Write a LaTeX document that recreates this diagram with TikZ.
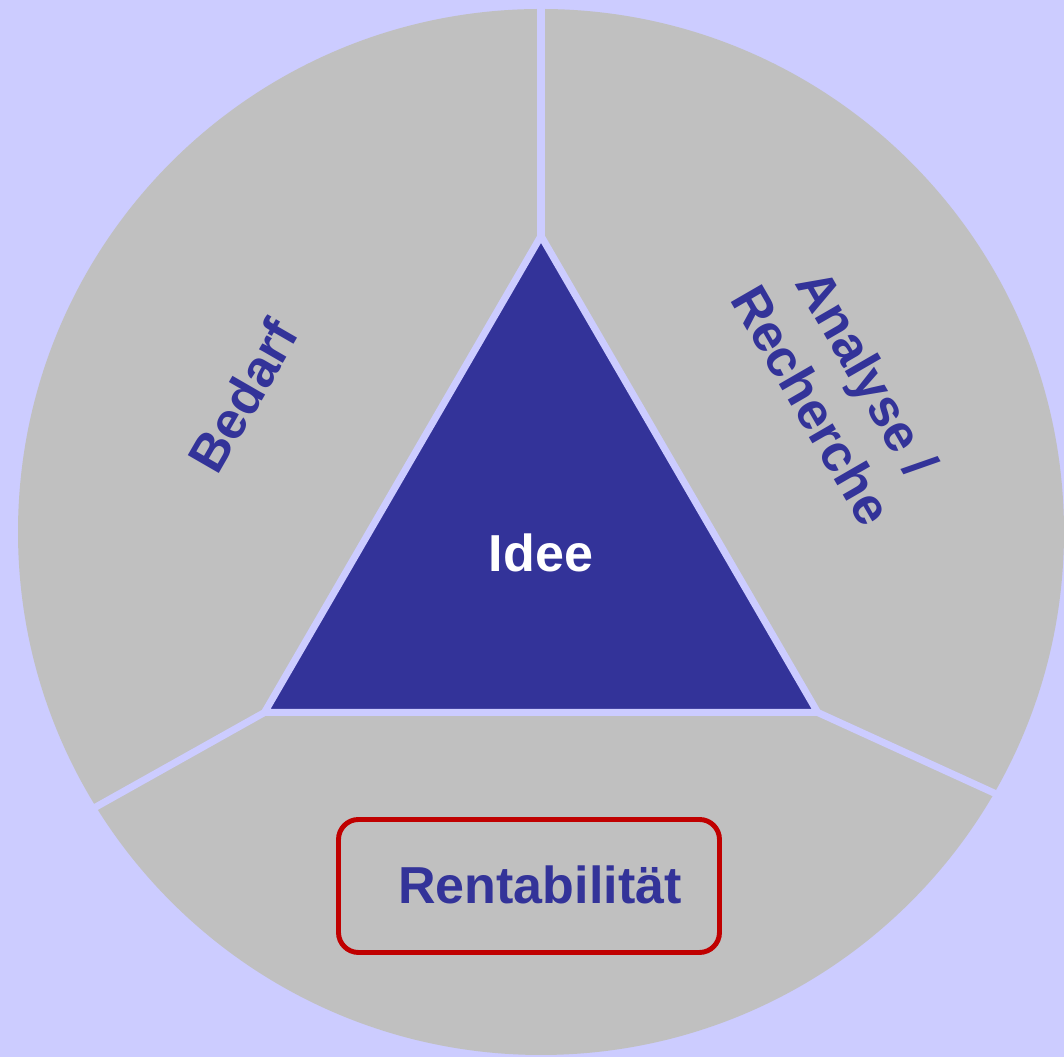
\documentclass[tikz,border=0pt]{standalone}
\usepackage{fontspec}
\setmainfont{Liberation Sans}
\usepackage{xcolor}
\usetikzlibrary{
		calc,
		positioning
	}
\definecolor{lavender}{HTML}{CCCCFF}
\definecolor{segmentgray}{HTML}{C0C0C0}
\definecolor{ideeblue}{HTML}{333399}
\definecolor{boxred}{HTML}{C00000}
\tikzset{
		>=stealth,
		segtext/.style={text=ideeblue, font=\fontsize{14.8}{18.2}\selectfont\bfseries, align=center},
		divider/.style={draw=lavender, line width=2pt}
	}

\begin{document}
\begin{tikzpicture}
        % background and the circle
        \fill[lavender] (0,0) rectangle (10.64,10.57);
        \useasboundingbox (0,0) rectangle (10.64,10.57);
        \fill[segmentgray] (5.41,5.25) circle (5.23);

        % corners of the triangle and the free ends of the dividers
        \coordinate (top) at (5.41,8.21);
        \coordinate (left) at (2.645,3.445);
        \coordinate (right) at (8.177,3.445);
        \coordinate (topend) at (5.41,10.57);
        \coordinate (leftend) at (0.78,2.40);
        \coordinate (rightend) at (10.16,2.54);

        % the dividers
        \draw[divider] (top) -- (topend);
        \draw[divider] (left) -- (leftend);
        \draw[divider] (right) -- (rightend);

        % the triangle
        \filldraw[fill=ideeblue, draw=lavender, line width=2pt] (top) -- (left) -- (right) -- cycle;

        % the texts
        \node[segtext, text=white] (idee) at (5.41,5.04) {Idee};
        \node[segtext, rotate=60] (bedarf) at (2.43,6.61) {Bedarf};
        \node[segtext, rotate=-60] (analyse) at (8.40,6.68) {Analyse /\\Recherche};

        % the box at the bottom
        \node[draw=boxred, line width=1.4pt, rounded corners=0.2cm, minimum width=3.81cm, minimum height=1.33cm] (rentbox) at (5.29,1.71) {};
        \node[segtext] (rent) at (5.40,1.72) {Rentabilität};

    \end{tikzpicture}
\end{document}
